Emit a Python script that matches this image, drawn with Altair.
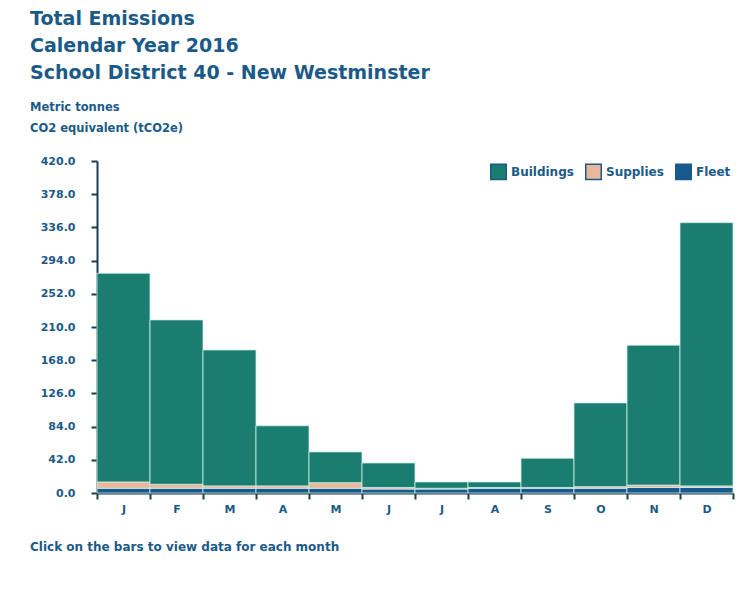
import altair as alt
import pandas as pd

months = ["Jan", "Feb", "Mar", "Apr", "May", "Jun", "Jul", "Aug", "Sep", "Oct", "Nov", "Dec"]
series = ["Buildings", "Supplies", "Fleet"]
buildings = [264, 208, 172, 76, 39, 31, 8, 7, 37, 106, 177, 333]
supplies = [8, 5, 3, 3, 7, 2, 1, 1, 1, 2, 3, 2]
fleet = [6, 6, 6, 6, 6, 5, 5, 6, 6, 6, 7, 7]
y_ticks = [0, 42, 84, 126, 168, 210, 252, 294, 336, 378, 420]
title_lines = ["Total Emissions", "Calendar Year 2016", "School District 40 - New Westminster"]
subtitle_lines = ["Metric tonnes", "CO2 equivalent (tCO2e)"]
footer = "Click on the bars to view data for each month"

rows = []
for i, m in enumerate(months):
    rows.append({"month": m, "series": "Fleet", "value": fleet[i], "ord": 0})
    rows.append({"month": m, "series": "Supplies", "value": supplies[i], "ord": 1})
    rows.append({"month": m, "series": "Buildings", "value": buildings[i], "ord": 2})
df = pd.DataFrame(rows)

BLUE = "#1b5a88"
FONT = "DejaVu Sans"

bars = alt.Chart(df).mark_bar(stroke="#cfeeea", strokeWidth=0.8).encode(
    x=alt.X("month:N", sort=months,
            scale=alt.Scale(paddingInner=0, paddingOuter=0),
            axis=alt.Axis(title=None, labelExpr="substring(datum.label,0,1)", labelAngle=0,
                          tickBand="extent", labelPadding=4)),
    y=alt.Y("value:Q", stack="zero",
            scale=alt.Scale(domain=[0, 420], nice=False),
            axis=alt.Axis(title=None, values=y_ticks, format=".1f", grid=False, labelPadding=16)),
    color=alt.Color("series:N",
                    scale=alt.Scale(domain=series, range=["#1b7c70", "#e9b799", "#16598d"]),
                    legend=alt.Legend(orient="none", legendX=393, legendY=2, direction="horizontal",
                                      title=None, symbolType="square", symbolSize=240,
                                      symbolStrokeColor=BLUE, symbolStrokeWidth=1.5,
                                      labelFontSize=12, labelFontWeight="bold", labelColor=BLUE,
                                      labelFont=FONT, labelOffset=4, columnPadding=8,
                                      symbolOpacity=1)),
    order=alt.Order("ord:Q"),
)

foot = alt.Chart(pd.DataFrame({"t": [footer]})).mark_text(
    align="left", baseline="middle", fontSize=12, fontWeight="bold", color=BLUE, font=FONT
).encode(x=alt.value(-67), y=alt.value(386), text="t:N")

chart = alt.layer(bars, foot).properties(
    width=636, height=332,
    background="white",
    autosize=alt.AutoSizeParams(type="none"),
    padding={"left": 89, "top": 153, "right": 7, "bottom": 95},
    title=alt.TitleParams(text=title_lines, subtitle=subtitle_lines, anchor="start", frame="group",
                          dx=-67, offset=21, fontSize=19, fontWeight="bold", color=BLUE, font=FONT,
                          lineHeight=27, subtitleFontSize=11.5, subtitleFontWeight="bold",
                          subtitleColor=BLUE, subtitleFont=FONT, subtitleLineHeight=21,
                          subtitlePadding=19),
).configure_view(stroke=None).configure_axis(
    labelColor=BLUE, labelFont=FONT, labelFontWeight="bold", labelFontSize=11,
    domainColor="#1e3d4f", domainWidth=2, tickColor="#1e3d4f", tickWidth=2, tickSize=6,
)

chart.save("out.html", embed_options={"renderer": "svg", "actions": False})
